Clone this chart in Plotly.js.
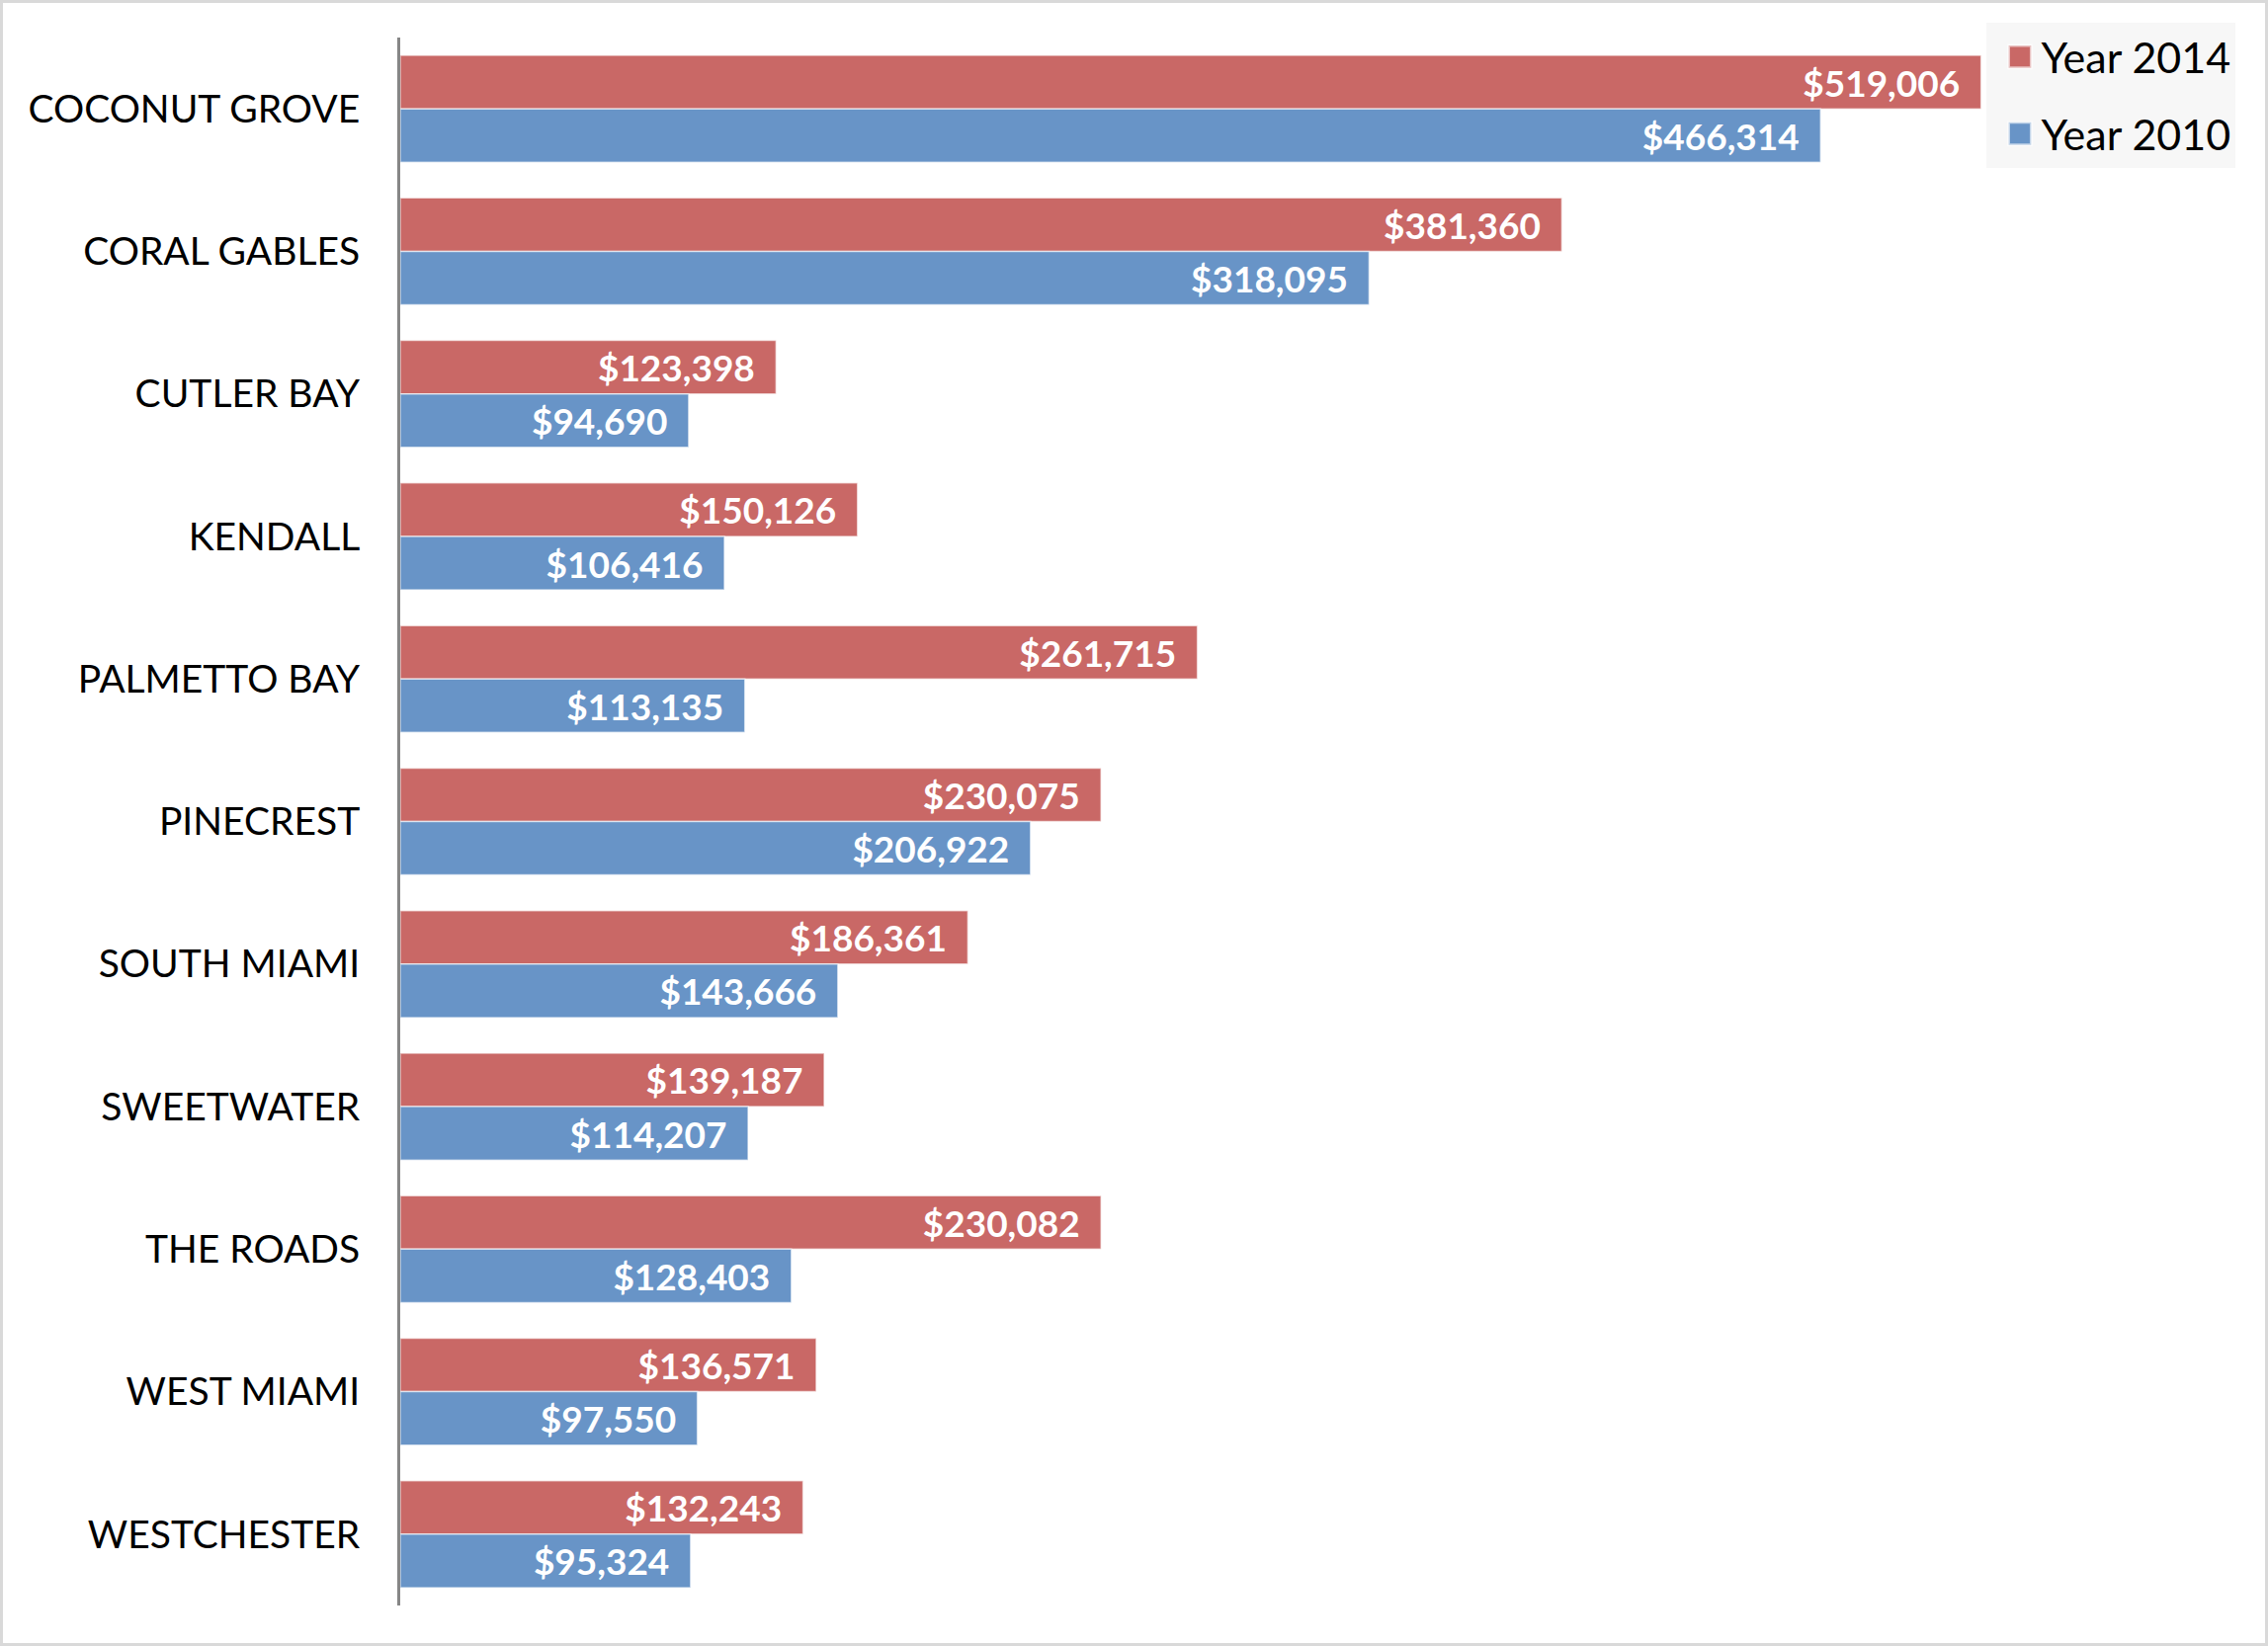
<!DOCTYPE html>
<html>
<head>
<meta charset="utf-8">
<script src="https://cdn.plot.ly/plotly-3.0.1.min.js"></script>
<style>
html,body{margin:0;padding:0;background:#fff;}
#chart{width:2295px;height:1666px;box-sizing:border-box;border:3px solid #D9D9D9;}
</style>
</head>
<body>
<div id="chart"></div>
<script>
const categories = ["COCONUT GROVE","CORAL GABLES","CUTLER BAY","KENDALL","PALMETTO BAY","PINECREST","SOUTH MIAMI","SWEETWATER","THE ROADS","WEST MIAMI","WESTCHESTER"];
const year2014 = [519006,381360,123398,150126,261715,230075,186361,139187,230082,136571,132243];
const year2010 = [466314,318095,94690,106416,113135,206922,143666,114207,128403,97550,95324];
const seriesNames = ["Year 2014","Year 2010"];

const FONT = "Lato, 'Open Sans', sans-serif";
const labelFont = {family: FONT, size: 37, color: "#FFFFFF", weight: "bold"};

function mk(name, vals, color, grp){
  return {
    type: "bar", orientation: "h", name: name, x: vals, y: categories,
    legendgroup: grp,
    marker: {color: color, line: {color: "rgba(255,255,255,0.6)", width: 1.5}},
    texttemplate: "%{x:$,.0f}\u2002", textposition: "inside", insidetextanchor: "end",
    textangle: 0, constraintext: "none",
    insidetextfont: labelFont, hoverinfo: "skip"
  };
}

const data = [
  mk(seriesNames[0], year2014, "#C96866", "a"),
  mk(seriesNames[1], year2010, "#6894C7", "b")
];

const layout = {
  width: 2289, height: 1660,
  margin: {l: 402, r: 161, t: 35, b: 38, pad: 0, autoexpand: false},
  paper_bgcolor: "#FFFFFF", plot_bgcolor: "#FFFFFF",
  barmode: "group", bargap: 0.25, bargroupgap: 0,
  showlegend: true,
  legend: {
    xref: "container", yref: "container", x: 0.877, y: 0.988, xanchor: "left", yanchor: "top",
    bgcolor: "#F7F7F7", font: {family: FONT, size: 43, color: "#000"},
    traceorder: "grouped", tracegroupgap: 19, itemwidth: 45
  },
  xaxis: {range: [0, 560000], showticklabels: false, showgrid: false, zeroline: false, showline: false, ticks: ""},
  yaxis: {
    autorange: "reversed", showgrid: false, zeroline: false,
    showline: true, linecolor: "#868686", linewidth: 3,
    ticks: "", ticklabelstandoff: 30,
    tickfont: {family: FONT, size: 39, color: "#000"}
  },
  font: {family: FONT}
};

Plotly.newPlot("chart", data, layout, {displayModeBar: false, staticPlot: true}).then(function(){
  document.querySelectorAll("#chart .legendpoints path").forEach(function(p){
    const t = p.getAttribute("transform") || "";
    p.setAttribute("transform", t + " translate(6,0) scale(1.9)");
  });
});
</script>
</body>
</html>
